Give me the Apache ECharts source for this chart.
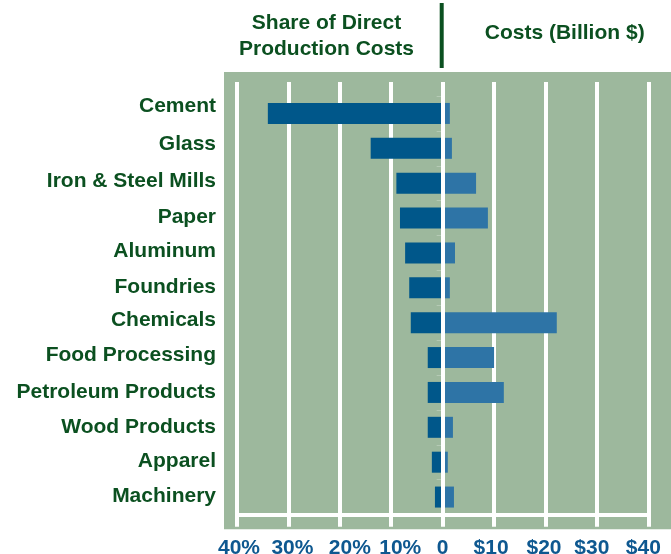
<!DOCTYPE html>
<html>
<head>
<meta charset="utf-8">
<script src="https://cdn.jsdelivr.net/npm/echarts@6/dist/echarts.min.js"></script>
<style>
html,body{margin:0;padding:0;background:#ffffff;}
#chart{width:671px;height:554px;}
</style>
</head>
<body>
<div id="chart"></div>
<script>
// Data
var categories = ['Cement', 'Glass', 'Iron & Steel Mills', 'Paper', 'Aluminum', 'Foundries', 'Chemicals', 'Food Processing', 'Petroleum Products', 'Wood Products', 'Apparel', 'Machinery'];
var shareOfDirectCosts = [34, 14, 9, 8.3, 7.3, 6.5, 6.2, 2.9, 2.9, 2.9, 2.1, 1.5]; // percent
var costsBillion = [1.4, 1.8, 6.5, 8.8, 2.4, 1.4, 22.2, 10, 11.9, 2.0, 1.0, 2.2]; // billion $
var axisTicks = [-40, -30, -20, -10, 0, 10, 20, 30, 40];
var leftTitle = 'Share of Direct\nProduction Costs';
var rightTitle = 'Costs (Billion $)';

var FONT = '"Liberation Sans", Arial, Helvetica, sans-serif';
var GREEN_TEXT = '#0b5020';
var BLUE_TEXT = '#0e5890';
var BG = '#9db89d';

// label style keys (layout only)
var catStyleKey = {'Cement': 'c', 'Glass': 'g', 'Iron & Steel Mills': 'a', 'Aluminum': 'a', 'Chemicals': 'a', 'Food Processing': 'a'};
var tickStyleKey = {'-40': 'l2', '-30': 'l4', '-20': 'l10', '-10': 'l9', '0': 'z', '10': 'r3', '20': 'r1', '30': 'r5', '40': 'r5'};

function tickLabel(v) {
  var t;
  if (v < 0) t = Math.abs(v) + '%';
  else if (v === 0) t = '0';
  else t = '$' + v;
  return '{' + (tickStyleKey[String(v)] || 'z') + '|' + t + '}';
}

function tickRich() {
  var base = {color: BLUE_TEXT, fontFamily: FONT, fontWeight: 'bold', fontSize: 21};
  function s(pad) { return Object.assign({}, base, {padding: pad}); }
  return {
    z: s([0, 0, 0, 0]),
    l2: s([0, 0, 0, 4]), l4: s([0, 0, 0, 8]), l10: s([0, 0, 0, 20]), l9: s([0, 0, 0, 18]),
    r1: s([0, 3, 0, 0]), r3: s([0, 6, 0, 0]), r5: s([0, 10, 0, 0])
  };
}
function catRich() {
  var base = {color: GREEN_TEXT, fontFamily: FONT, fontWeight: 'bold', fontSize: 21};
  function s(pad) { return Object.assign({}, base, {padding: pad}); }
  return {n: s([0, 0, 1, 0]), a: s([0, 0, 4, 0]), g: s([0, 0, 9, 0]), c: s([0, 0, 14, 0])};
}

var chart = echarts.init(document.getElementById('chart'), null, {renderer: 'canvas'});
var option = {
  animation: false,
  backgroundColor: '#ffffff',
  graphic: [
    {type: 'rect', z: -10, silent: true, shape: {x: 224, y: 72, width: 447, height: 457.3}, style: {fill: BG}},
    {type: 'line', silent: true, shape: {x1: 441.7, y1: 3, x2: 441.7, y2: 68}, style: {stroke: GREEN_TEXT, lineWidth: 4}},
    {type: 'text', silent: true, x: 326.5, y: 9.5, style: {text: leftTitle, align: 'center', verticalAlign: 'top', lineHeight: 26.7, fill: GREEN_TEXT, font: 'bold 21px ' + FONT}},
    {type: 'text', silent: true, x: 564.7, y: 19.4, style: {text: rightTitle, align: 'center', verticalAlign: 'top', lineHeight: 26.7, fill: GREEN_TEXT, font: 'bold 21px ' + FONT}}
  ],
  grid: [
    {left: 237, right: 22.7, top: 82, bottom: 27.3, containLabel: false, outerBoundsMode: 'none'},
    {left: 237, right: 22.7, top: 96, bottom: 39.5, containLabel: false, outerBoundsMode: 'none'}
  ],
  xAxis: [
    {
      gridIndex: 0, type: 'value', min: -40, max: 40, interval: 10,
      axisLine: {show: false}, axisTick: {show: false}, axisLabel: {show: false},
      splitLine: {show: true, lineStyle: {color: '#ffffff', width: 4}}
    },
    {
      gridIndex: 1, type: 'value', min: -40, max: 40, interval: 10,
      axisLine: {show: true, onZero: false, lineStyle: {color: '#ffffff', width: 4}},
      axisTick: {show: false},
      splitLine: {show: false},
      axisLabel: {
        show: true, margin: 23,
        color: BLUE_TEXT, fontFamily: FONT, fontWeight: 'bold', fontSize: 21,
        formatter: tickLabel,
        rich: tickRich(),
        customValues: axisTicks
      }
    }
  ],
  yAxis: [
    {gridIndex: 0, type: 'category', data: categories, show: false},
    {
      gridIndex: 1, type: 'category', data: categories, inverse: true,
      axisLine: {show: false},
      axisTick: {show: true, length: 6, lineStyle: {color: 'rgba(255,255,255,0.25)', width: 1}},
      axisLabel: {
        margin: 21, color: GREEN_TEXT, fontFamily: FONT, fontWeight: 'bold', fontSize: 21,
        formatter: function (v) { return '{' + (catStyleKey[v] || 'n') + '|' + v + '}'; },
        rich: catRich()
      }
    }
  ],
  series: [
    {
      name: 'Share of Direct Production Costs',
      type: 'bar', xAxisIndex: 1, yAxisIndex: 1,
      data: shareOfDirectCosts.map(function (v) { return -v; }),
      barWidth: 21, barGap: '-100%',
      itemStyle: {color: '#00578a'},
      silent: true
    },
    {
      name: 'Costs (Billion $)',
      type: 'bar', xAxisIndex: 1, yAxisIndex: 1,
      data: costsBillion,
      barWidth: 21, barGap: '-100%',
      itemStyle: {color: '#2e74a6'},
      silent: true,
      markLine: {
        silent: true, symbol: ['none', 'none'],
        label: {show: false},
        lineStyle: {color: '#ffffff', width: 4, type: 'solid'},
        data: [{xAxis: 0}]
      }
    }
  ]
};
chart.setOption(option);
</script>
</body>
</html>
